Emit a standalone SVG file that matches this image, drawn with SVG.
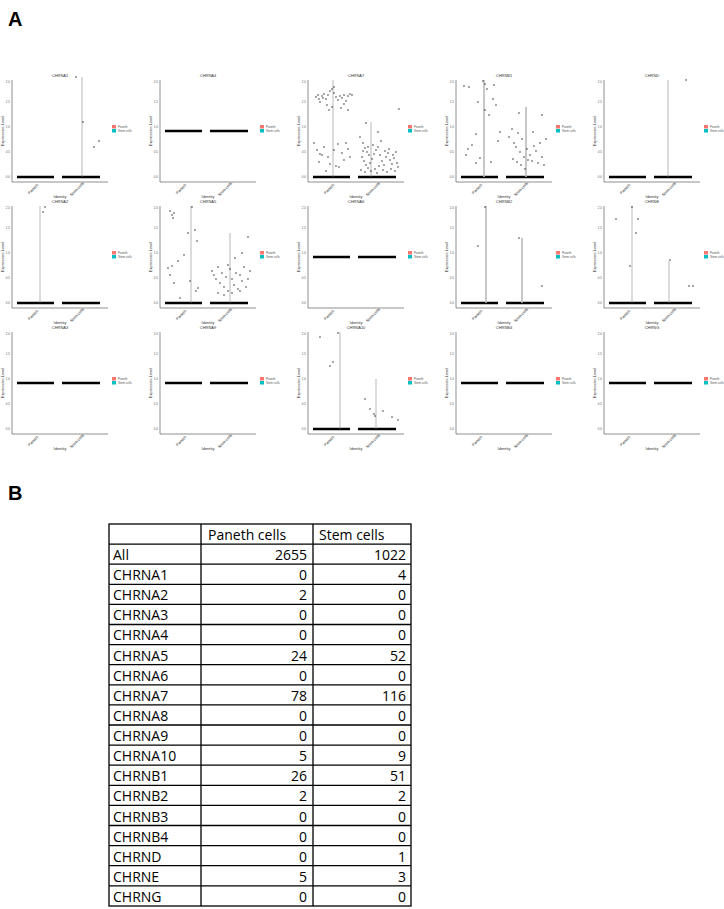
<svg xmlns="http://www.w3.org/2000/svg" width="724" height="909" viewBox="0 0 724 909">
<style>
.t{font-family:"Liberation Sans",Arial,sans-serif;font-size:4px;fill:#333;text-anchor:middle}
.tk{font-family:"Liberation Sans",Arial,sans-serif;font-size:3px;fill:#555;text-anchor:end}
.ax{stroke:#444;stroke-width:0.6;fill:none}
.base{stroke:#000;stroke-width:2.6}
.vl{stroke:#888;stroke-width:0.6}
.vw{stroke:#bbb;stroke-width:1.6}
.d{stroke:#000;stroke-width:1.3;stroke-linecap:round;fill:none}
.tb{font-family:"Open Sans","Liberation Sans",sans-serif;font-size:14px;fill:#000}
.r{text-anchor:end}
.grid{stroke:#000;stroke-width:1.3;fill:none}
.big{font-family:"Liberation Sans",Arial,sans-serif;font-size:20px;font-weight:bold}
</style>
<defs>
<g id="frame">
<path class="ax" d="M0,3V105H96"/>
<text class="tk" x="-2" y="101">0.0</text>
<text class="tk" x="-2" y="76">0.5</text>
<text class="tk" x="-2" y="51">1.0</text>
<text class="tk" x="-2" y="26">1.5</text>
<text class="tk" x="-2" y="6">2.0</text>
<text class="t" transform="translate(-8,54) rotate(-90)">Expression Level</text>
<text class="t" transform="translate(22,113) rotate(-45)">Paneth</text>
<text class="t" transform="translate(66,113) rotate(-45)">Stem cells</text>
<text class="t" x="48" y="121">Identity</text>
<rect x="100" y="48" width="4" height="3.5" fill="#F8766D"/>
<rect x="100" y="52" width="4" height="3.5" fill="#00BFC4"/>
<text class="tk" x="106" y="51" style="text-anchor:start">Paneth</text>
<text class="tk" x="106" y="55" style="text-anchor:start">Stem cells</text>
</g>
<g id="zero"><path class="base" d="M5,100H42M50,100H88"/></g>
<g id="flat"><path class="base" d="M5,54H42M50,54H88"/></g>
</defs>
<text class="big" x="8" y="26">A</text>
<text class="big" x="8" y="500">B</text>

<g id="p-chrna1" transform="translate(12,77)"><use href="#frame"/><text class="t" x="48" y="0">CHRNA1</text><use href="#zero"/><path class="vl" d="M70,0V100"/><path class="d" d="M64,0h0M71,45h0M82,70h0M87,64h0"/></g>
<g id="p-chrna4" transform="translate(160,77)"><use href="#frame"/><text class="t" x="48" y="0">CHRNA4</text><use href="#flat"/></g>
<g id="p-chrna7" transform="translate(308,77)"><use href="#frame"/><text class="t" x="48" y="0">CHRNA7</text><use href="#zero"/><path class="vl" d="M25,3V100M63,45V100"/>
<path class="d" d="M8,20h0M10,18h0M12,25h0M14,19h0M16,17h0M18,22h0M20,18h0M22,14h0M24,12h0M26,16h0M28,20h0M30,23h0M32,19h0M34,21h0M36,18h0M38,24h0M40,19h0M42,17h0M44,18h0M21,33h0M24,30h0M26,10h0M19,28h0M33,31h0M40,33h0M15,21h0M11,22h0M36,27h0
M6,66h0M9,73h0M12,77h0M14,78h0M11,85h0M16,70h0M20,80h0M22,87h0M26,73h0M28,89h0M30,67h0M34,76h0M38,66h0M40,72h0M42,80h0M18,94h0M31,90h0M36,83h0
M52,60h0M55,66h0M57,71h0M59,75h0M61,78h0M54,80h0M56,84h0M58,88h0M60,91h0M62,86h0M64,82h0M66,77h0M68,73h0M70,70h0M72,78h0M74,84h0M76,88h0M78,80h0M80,76h0M82,83h0M84,87h0M86,81h0M88,75h0M90,90h0M53,93h0M57,95h0M63,94h0M67,92h0M71,89h0M75,93h0M79,95h0M83,92h0M87,94h0M65,68h0M73,64h0M81,72h0M89,86h0M60,70h0M77,74h0M85,78h0M69,96h0M55,74h0M91,32h0M70,55h0M58,46h0"/></g>
<g id="p-chrnb1" transform="translate(456,77)"><use href="#frame"/><text class="t" x="48" y="0">CHRNB1</text><use href="#zero"/><path class="vw" d="M28,3V100M70,30V100"/>
<path class="d" d="M8,9h0M13,10h0M27,4h0M29,7h0M31,12h0M38,8h0M22,25h0M29,33h0M33,38h0M37,22h0M40,28h0M44,55h0M42,64h0M20,57h0M16,68h0M12,72h0M10,78h0M20,86h0M24,81h0M35,85h0
M53,60h0M56,52h0M58,66h0M60,70h0M62,56h0M64,75h0M66,62h0M68,80h0M57,82h0M61,85h0M65,88h0M71,72h0M74,78h0M76,84h0M78,69h0M80,74h0M82,86h0M84,66h0M86,80h0M88,88h0M90,62h0M72,83h0M69,92h0M63,36h0M77,55h0M86,38h0"/></g>
<g id="p-chrnd" transform="translate(604,77)"><use href="#frame"/><text class="t" x="48" y="0">CHRND</text><use href="#zero"/><path class="vl" d="M64,3V100"/><path class="d" d="M82,3h0"/></g>

<g id="p-chrna2" transform="translate(12,203)"><use href="#frame"/><text class="t" x="48" y="0">CHRNA2</text><use href="#zero"/><path class="vl" d="M28,3V100"/><path class="d" d="M33,4h0M31,9h0"/></g>
<g id="p-chrna5" transform="translate(160,203)"><use href="#frame"/><text class="t" x="48" y="0">CHRNA5</text><use href="#zero"/><path class="vl" d="M31,3V100M70,30V100"/>
<path class="d" d="M10,8h0M12,12h0M14,10h0M13,15h0M32,4h0M28,30h0M35,27h0M37,38h0M24,52h0M18,58h0M12,63h0M10,72h0M8,65h0M14,80h0M30,78h0M38,85h0M20,95h0M36,88h0
M52,68h0M54,72h0M56,76h0M58,64h0M60,80h0M62,70h0M64,84h0M66,74h0M68,88h0M70,66h0M72,76h0M74,82h0M76,70h0M78,86h0M80,72h0M82,78h0M84,64h0M86,84h0M88,76h0M90,68h0M58,90h0M64,92h0M72,90h0M80,88h0M68,62h0M75,55h0M82,50h0M88,34h0"/></g>
<g id="p-chrna6" transform="translate(308,203)"><use href="#frame"/><text class="t" x="48" y="0">CHRNA6</text><use href="#flat"/></g>
<g id="p-chrnb2" transform="translate(456,203)"><use href="#frame"/><text class="t" x="48" y="0">CHRNB2</text><use href="#zero"/><path class="vw" d="M30,3V100M66,35V100"/><path class="d" d="M29,4h0M22,43h0M63,35h0M86,83h0"/></g>
<g id="p-chrne" transform="translate(604,203)"><use href="#frame"/><text class="t" x="48" y="0">CHRNE</text><use href="#zero"/><path class="vl" d="M28,3V100M65,58V100"/><path class="d" d="M12,16h0M28,4h0M34,16h0M32,30h0M26,63h0M66,57h0M85,83h0M89,83h0"/></g>

<g id="p-chrna3" transform="translate(12,329)"><use href="#frame"/><text class="t" x="48" y="0">CHRNA3</text><use href="#flat"/></g>
<g id="p-chrna9" transform="translate(160,329)"><use href="#frame"/><text class="t" x="48" y="0">CHRNA9</text><use href="#flat"/></g>
<g id="p-chrna10" transform="translate(308,329)"><use href="#frame"/><text class="t" x="48" y="0">CHRNA10</text><use href="#zero"/><path class="vl" d="M32,3V100M68,50V100"/><path class="d" d="M12,8h0M22,37h0M25,33h0M30,4h0M57,70h0M62,80h0M66,85h0M67,87h0M75,82h0M84,88h0M90,91h0"/></g>
<g id="p-chrnb4" transform="translate(456,329)"><use href="#frame"/><text class="t" x="48" y="0">CHRNB4</text><use href="#flat"/></g>
<g id="p-chrng" transform="translate(604,329)"><use href="#frame"/><text class="t" x="48" y="0">CHRNG</text><use href="#flat"/></g>

<g id="table">
<rect class="grid" x="109" y="524" width="302" height="382"/>
<path class="grid" d="M201,524V906M313,524V906M109,544.1H411M109,564.2H411M109,584.3H411M109,604.4H411M109,624.5H411M109,644.6H411M109,664.7H411M109,684.8H411M109,704.9H411M109,725H411M109,745.1H411M109,765.2H411M109,785.3H411M109,805.4H411M109,825.5H411M109,845.6H411M109,865.7H411M109,885.8H411"/>
<text class="tb" x="208" y="540">Paneth cells</text><text class="tb" x="319" y="540">Stem cells</text>
<g class="tb">
<text x="113" y="560">All</text><text x="113" y="580">CHRNA1</text><text x="113" y="600">CHRNA2</text><text x="113" y="620">CHRNA3</text><text x="113" y="640">CHRNA4</text><text x="113" y="661">CHRNA5</text><text x="113" y="681">CHRNA6</text><text x="113" y="701">CHRNA7</text><text x="113" y="721">CHRNA8</text><text x="113" y="741">CHRNA9</text><text x="113" y="761">CHRNA10</text><text x="113" y="781">CHRNB1</text><text x="113" y="801">CHRNB2</text><text x="113" y="822">CHRNB3</text><text x="113" y="842">CHRNB4</text><text x="113" y="862">CHRND</text><text x="113" y="882">CHRNE</text><text x="113" y="902">CHRNG</text>
</g>
<g class="tb r">
<text x="307" y="560">2655</text><text x="307" y="580">0</text><text x="307" y="600">2</text><text x="307" y="620">0</text><text x="307" y="640">0</text><text x="307" y="661">24</text><text x="307" y="681">0</text><text x="307" y="701">78</text><text x="307" y="721">0</text><text x="307" y="741">0</text><text x="307" y="761">5</text><text x="307" y="781">26</text><text x="307" y="801">2</text><text x="307" y="822">0</text><text x="307" y="842">0</text><text x="307" y="862">0</text><text x="307" y="882">5</text><text x="307" y="902">0</text>
<text x="406" y="560">1022</text><text x="406" y="580">4</text><text x="406" y="600">0</text><text x="406" y="620">0</text><text x="406" y="640">0</text><text x="406" y="661">52</text><text x="406" y="681">0</text><text x="406" y="701">116</text><text x="406" y="721">0</text><text x="406" y="741">0</text><text x="406" y="761">9</text><text x="406" y="781">51</text><text x="406" y="801">2</text><text x="406" y="822">0</text><text x="406" y="842">0</text><text x="406" y="862">1</text><text x="406" y="882">3</text><text x="406" y="902">0</text>
</g>
</g>
</svg>
